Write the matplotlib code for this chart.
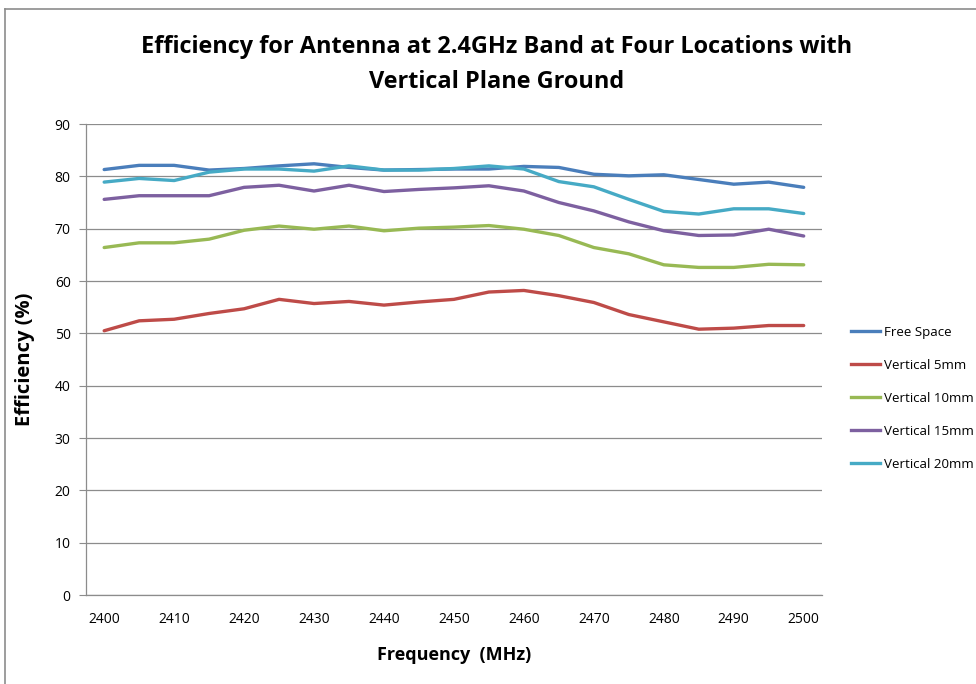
import numpy as np
import matplotlib
matplotlib.use("Agg")
import matplotlib.pyplot as plt
from matplotlib.lines import Line2D

plt.rcParams['font.family'] = ['Open Sans', 'DejaVu Sans']

freq = np.arange(2400, 2501, 5)

free_space = [81.3, 82.1, 82.1, 81.2, 81.5, 82.0, 82.4, 81.7, 81.2, 81.3, 81.4,
              81.4, 81.9, 81.7, 80.4, 80.1, 80.3, 79.4, 78.5, 78.9, 77.9]
vert_5 = [50.5, 52.4, 52.7, 53.8, 54.7, 56.5, 55.7, 56.1, 55.4, 56.0, 56.5,
          57.9, 58.2, 57.2, 55.9, 53.6, 52.2, 50.8, 51.0, 51.5, 51.5]
vert_10 = [66.4, 67.3, 67.3, 68.0, 69.7, 70.5, 69.9, 70.5, 69.6, 70.1, 70.3,
           70.6, 69.9, 68.7, 66.4, 65.2, 63.1, 62.6, 62.6, 63.2, 63.1]
vert_15 = [75.6, 76.3, 76.3, 76.3, 77.9, 78.3, 77.2, 78.3, 77.1, 77.5, 77.8,
           78.2, 77.2, 75.0, 73.4, 71.3, 69.6, 68.7, 68.8, 69.9, 68.6]
vert_20 = [78.9, 79.6, 79.2, 80.8, 81.4, 81.4, 81.0, 82.0, 81.2, 81.2, 81.5,
           82.0, 81.4, 79.0, 78.0, 75.6, 73.3, 72.8, 73.8, 73.8, 72.9]

labels = ["Free Space", "Vertical 5mm", "Vertical 10mm", "Vertical 15mm", "Vertical 20mm"]
colors = ["#4A7EBB", "#BE4B48", "#98B954", "#7D60A0", "#46AAC5"]

fig = plt.figure(figsize=(9.76, 6.84), dpi=100)
ax = fig.add_axes([0.0881, 0.130, 0.754, 0.6887])

for vals, lab, col in zip([free_space, vert_5, vert_10, vert_15, vert_20], labels, colors):
    ax.plot(freq, vals, color=col, lw=2.4, label=lab, solid_capstyle="round")

ax.set_xlim(2397.4, 2502.6)
ax.set_ylim(0, 90)
ax.set_yticks(np.arange(0, 91, 10))
ax.set_xticks(np.arange(2400, 2501, 10))
ax.grid(axis="y", color="#8c8c8c", lw=0.9)
ax.set_axisbelow(True)
for s in ["top", "right"]:
    ax.spines[s].set_visible(False)
for s in ["left", "bottom"]:
    ax.spines[s].set_color("#8c8c8c")
    ax.spines[s].set_linewidth(0.9)
ax.tick_params(axis="y", length=5, color="#8c8c8c", labelsize=10, pad=6)
ax.tick_params(axis="x", length=0, labelsize=10, pad=12)

ax.set_xlabel("Frequency  (MHz)", fontsize=13, fontweight="bold", labelpad=14)
ax.set_ylabel("Efficiency (%)", fontsize=14.5, fontweight="bold", labelpad=14)

fig.text(0.509, 0.906, "Efficiency for Antenna at 2.4GHz Band at Four Locations with\nVertical Plane Ground",
         ha="center", va="center", fontsize=16.9, fontweight="bold", linespacing=1.6)

handles = [Line2D([0], [0], color=c, lw=2.4) for c in colors]
fig.legend(handles, labels, loc="upper left", bbox_to_anchor=(0.866, 0.531), frameon=False,
           fontsize=9.6, handlelength=2.2, handletextpad=0.3, labelspacing=1.5, borderaxespad=0)

# chart border (top and left edges visible)
fig.add_artist(Line2D([0.005, 0.005], [0, 0.987], color="#8c8c8c", lw=1.2, transform=fig.transFigure))
fig.add_artist(Line2D([0.005, 1.0], [0.987, 0.987], color="#8c8c8c", lw=1.2, transform=fig.transFigure))

fig.savefig("out.png", dpi=100)
